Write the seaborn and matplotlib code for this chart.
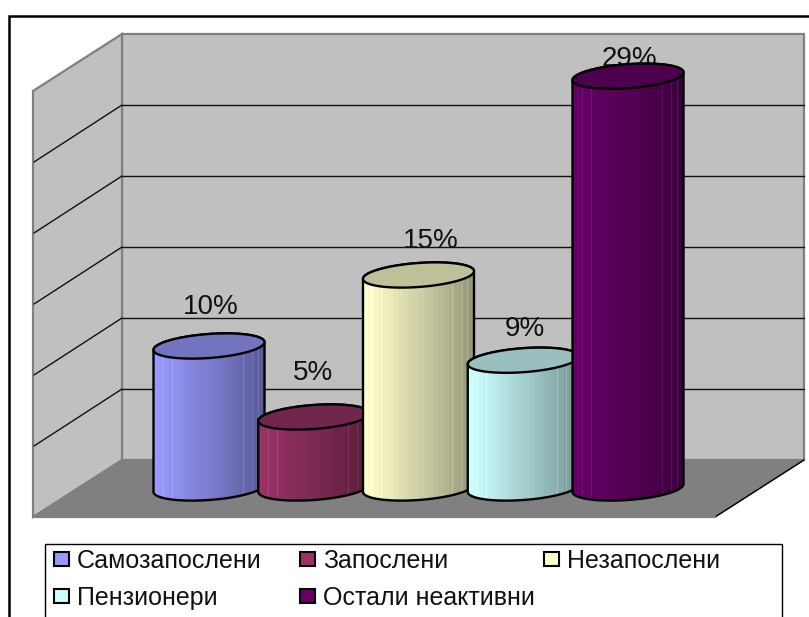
import numpy as np
import pandas as pd
import matplotlib
matplotlib.use("Agg")
import matplotlib.pyplot as plt
import seaborn as sns
from matplotlib.patches import Polygon, Rectangle, Patch
from matplotlib.path import Path
from matplotlib.transforms import Affine2D, IdentityTransform
from matplotlib.colors import to_rgb

categories = ["Самозапослени", "Запослени", "Незапослени", "Пензионери", "Остали неактивни"]
values = [10, 5, 15, 9, 29]
labels = ["10%", "5%", "15%", "9%", "29%"]
colors = ["#9999FF", "#993366", "#FFFFCC", "#CCFFFF", "#660066"]
gridvals = [5, 10, 15, 20, 25]

W, H = 809, 617
sns.set_theme(style="white")
plt.rcParams["font.family"] = ["Liberation Sans", "DejaVu Sans"]

fig = plt.figure(figsize=(W / 100, H / 100), dpi=100, facecolor="white")
ax = fig.add_axes([0, 0, 1, 1])
# scales: category spacing 104.75 px from x=209; value 0 at y=488, 14.2 px per unit
sx, x0, sy, y0 = 104.75, 209.0, 14.2, 488.0
xlim = (-x0 / sx, (W - x0) / sx)
ylim = ((y0 - H) / sy, y0 / sy)
px = Affine2D().scale(1, -1).translate(0, H)

df = pd.DataFrame({"cat": categories, "val": values})
sns.barplot(data=df, x="cat", y="val", hue="cat", palette=colors, width=1.0,
            dodge=False, legend=False, ax=ax, saturation=1)
bars = sorted([b for b in ax.patches if isinstance(b, Rectangle)], key=lambda b: b.get_x())

wall = "#C0C0C0"
edge = "#808080"
D = (89, -57)       # depth offset of the back plane
bx0, bx1, by0, by1 = 122, 804, 460, 34


def poly(pts, **kw):
    ax.add_patch(Polygon(pts, closed=True, transform=px, **kw))


poly([(bx0, by1), (bx1, by1), (bx1, by0), (bx0, by0)], fc=wall, ec=edge, lw=1.6, zorder=0.2)
poly([(bx0 - D[0], by1 - D[1]), (bx0, by1), (bx0, by0), (bx0 - D[0], by0 - D[1])],
     fc=wall, ec=edge, lw=1.6, zorder=0.3)
poly([(bx0 - D[0], by0 - D[1]), (bx0, by0), (bx1, by0), (bx1 - D[0], by0 - D[1])],
     fc=edge, ec=edge, lw=1, zorder=0.4)
ax.plot([bx1, bx1 - D[0]], [by0, by0 - D[1]], color="black", lw=1.0, transform=px, zorder=0.5)
ax.plot([bx0 - D[0], bx1 - D[0]], [by0 - D[1]] * 2, color=edge, lw=1.6, transform=px, zorder=0.5)
for g in gridvals:
    y = by0 - g * sy
    ax.plot([bx0, bx1], [y, y], color="#111111", lw=1.0, transform=px, zorder=0.6)
    ax.plot([bx0, bx0 - D[0] + 1], [y, y - D[1]], color="#111111", lw=1.0, transform=px, zorder=0.6)

# chart frame (cut by the image edges, no right side)
ax.plot([9, 9, 812], [620, 16, 16], color="black", lw=1.8, transform=px, zorder=0.1,
        solid_joinstyle="miter")

# cylinders built on the seaborn bars
a, b_, slope = 55.5, 12.0, 0.07
t_low = np.linspace(np.pi, 2 * np.pi, 61)
t_up = np.linspace(0, np.pi, 61)


def rim(t):
    xx = a * np.cos(t)
    return xx, slope * xx + b_ * np.sin(t)


for i, (bar, v, c) in enumerate(zip(bars, values, colors)):
    z = 3 + i
    bar.set_zorder(z)
    rgb = np.array(to_rgb(c))
    cx = x0 + i * sx
    ytop = H - (y0 - v * sy)
    ybot = H - y0
    xb, yb = rim(t_low)
    xt, yt = rim(t_up)
    verts = np.c_[np.r_[cx + xb, cx + xt], np.r_[ybot + yb, ytop + yt]]
    ax.add_patch(Polygon(verts, closed=True, fc="none", ec="black", lw=1.7,
                         transform=IdentityTransform(), zorder=z + 0.3))
    # banded shading, bright on the left and dark on the right, with thin pale facets
    steps = 22
    shade = np.floor(np.linspace(0, 1, 112) * steps) / steps
    fac = 1.0 - 0.42 * shade ** 1.1
    cols_ = rgb[None, :] * fac[:, None]
    for f in (0.09, 0.17, 0.80, 0.88, 0.93):
        k = int(f * 112)
        cols_[k] = np.minimum(1, cols_[k] + 0.07)
    strip = cols_[None, :, :]
    im = ax.imshow(strip, extent=(i - 0.535, i + 0.535, -3, v + 3), aspect="auto",
                   interpolation="nearest", zorder=z + 0.1)
    im.set_clip_path(Path(np.r_[verts, verts[:1]]), IdentityTransform())
    # top face
    xa, ya = rim(np.r_[t_up, t_low])
    ax.add_patch(Polygon(np.c_[cx + xa, ytop + ya], closed=True, fc=rgb * 0.75, ec="black", lw=1.7,
                         transform=IdentityTransform(), zorder=z + 0.4))

ax.set_xlim(*xlim)
ax.set_ylim(*ylim)
ax.set_axis_off()

# data labels
label_dx = [2, -1, 12, 2, 1]
label_dy = [39, 44, 34, 31, 17]
for i, (v, s) in enumerate(zip(values, labels)):
    ax.annotate(s, (i, v), xytext=(label_dx[i] * 0.72, label_dy[i] * 0.72), textcoords="offset points",
                ha="center", va="center", fontsize=20, color="#111111", zorder=2.5)

# legend box (runs off the bottom of the image)
ax.add_patch(Rectangle((45, 543.5), 737, 100, fc="white", ec="black", lw=1.0, transform=px, zorder=1))
cols = [([0, 3], 54), ([1, 4], 300), ([2], 544)]
for idx, x in cols:
    handles = [Patch(fc=colors[j], ec="black", lw=1.5) for j in idx]
    leg = ax.legend(handles, [categories[j] for j in idx], loc="upper left", frameon=False,
                    bbox_to_anchor=(x / W, 1 - 549 / H), bbox_transform=fig.transFigure,
                    borderaxespad=0, borderpad=0, fontsize=18, handlelength=0.6, handleheight=0.52,
                    handletextpad=0.32, labelspacing=0.52, labelcolor="#111111")
    leg.set_zorder(2)
    ax.add_artist(leg)
    ax.legend_ = None

fig.savefig("out.png", dpi=100, facecolor="white")
